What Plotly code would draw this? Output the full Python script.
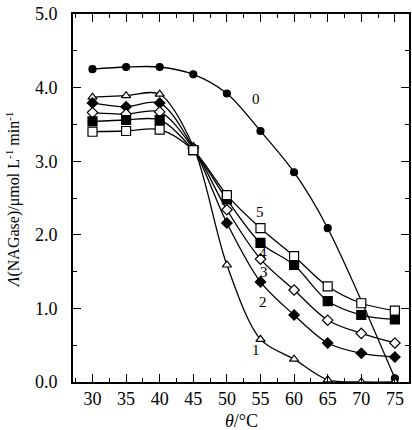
import plotly.graph_objects as go

# Temperature (°C) at which activity was measured
temps = [30, 35, 40, 45, 50, 55, 60, 65, 70, 75]
temps_0 = [30, 35, 40, 45, 50, 55, 60, 65, 75]

# NAGase activity, µmol L^-1 min^-1, one list per curve
act_0 = [4.25, 4.28, 4.28, 4.18, 3.92, 3.41, 2.85, 2.09, 0.05]
act_1 = [3.87, 3.89, 3.91, 3.20, 1.59, 0.58, 0.31, 0.03, 0.0, 0.0]
act_2 = [3.79, 3.74, 3.79, 3.18, 2.16, 1.36, 0.91, 0.53, 0.39, 0.34]
act_3 = [3.66, 3.64, 3.67, 3.17, 2.34, 1.67, 1.25, 0.84, 0.66, 0.53]
act_4 = [3.54, 3.56, 3.56, 3.15, 2.48, 1.89, 1.59, 1.10, 0.91, 0.85]
act_5 = [3.40, 3.41, 3.43, 3.15, 2.54, 2.09, 1.71, 1.30, 1.07, 0.97]

curve_names = ["0", "1", "2", "3", "4", "5"]
label_x = [54.3, 54.4, 55.3, 55.5, 55.3, 54.9]
label_y = [3.85, 0.43, 1.09, 1.49, 1.75, 2.31]

FONT = "Liberation Serif, Times New Roman, serif"

series = [
    (temps_0, act_0, "circle", "black", 7),
    (temps, act_1, "triangle-up-open", "white", 8),
    (temps, act_2, "diamond", "black", 8),
    (temps, act_3, "diamond-open", "white", 8),
    (temps, act_4, "square", "black", 9),
    (temps, act_5, "square-open", "white", 9),
]

fig = go.Figure()
for (xs, ys, sym, fill, size), name in zip(series, curve_names):
    fig.add_trace(go.Scatter(
        x=xs, y=ys, mode="lines", name=name,
        line=dict(color="black", width=1.3, shape="spline", smoothing=0.9),
        hoverinfo="skip", showlegend=False,
    ))
for (xs, ys, sym, fill, size), name in zip(series, curve_names):
    base = sym.replace("-open", "")
    fig.add_trace(go.Scatter(
        x=xs, y=ys, mode="markers", name=name,
        marker=dict(symbol=base, size=size, color=fill,
                    line=dict(color="black", width=1.2)),
        showlegend=False,
    ))

for name, lx, ly in zip(curve_names, label_x, label_y):
    fig.add_annotation(x=lx, y=ly, text=name, showarrow=False,
                       font=dict(family=FONT, size=15, color="black"))

fig.add_annotation(xref="paper", yref="paper", x=-0.1775, y=0.495,
                   text="<i>Λ</i>(NAGase)/μmol L<sup>-1</sup> min<sup>-1</sup>",
                   textangle=-90, showarrow=False, xanchor="center", yanchor="middle",
                   font=dict(family=FONT, size=16, color="black"))
fig.add_annotation(xref="paper", yref="paper", x=0.5, y=-0.105,
                   text="<i>θ</i>/°C", showarrow=False,
                   xanchor="center", yanchor="middle",
                   font=dict(family=FONT, size=18, color="black"))

axis_common = dict(
    showgrid=False, zeroline=False, showline=True, linecolor="black", linewidth=1.6,
    mirror="ticks", ticks="inside", ticklen=8, tickwidth=1.3, tickcolor="black",
    tickfont=dict(family=FONT, size=18, color="black"),
)
fig.update_xaxes(range=[27.1, 77.1], dtick=5, tick0=30,
                 minor=dict(dtick=2.5, ticks="inside", ticklen=4, tickwidth=1.2,
                            tickcolor="black"),
                 ticklabelstandoff=0, **axis_common)
fig.update_yaxes(range=[0, 5], dtick=1, tickformat=".1f",
                 minor=dict(dtick=0.5, ticks="inside", ticklen=4, tickwidth=1.2,
                            tickcolor="black"),
                 ticklabelstandoff=10, **axis_common)

fig.update_layout(
    width=412, height=430,
    margin=dict(l=73, r=1, t=14, b=48),
    plot_bgcolor="white", paper_bgcolor="white",
)

fig.write_html("out.html")
